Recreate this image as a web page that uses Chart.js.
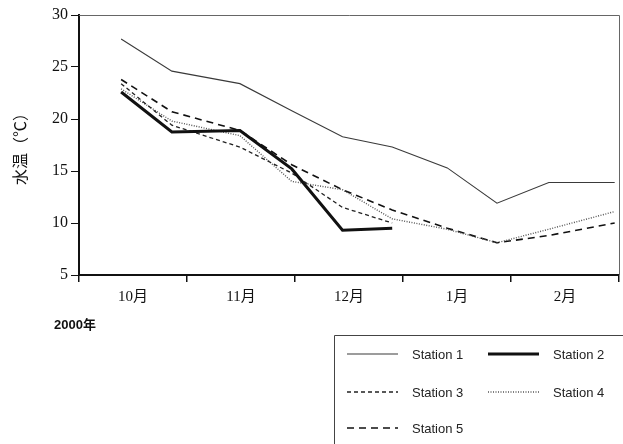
<!DOCTYPE html>
<html><head><meta charset="utf-8">
<script src="https://cdn.jsdelivr.net/npm/chart.js@4"></script>
<style>html,body{margin:0;padding:0;background:#fff}#wrap{width:623px;height:444px;position:relative}</style>
</head><body><div id="wrap"><canvas id="c" width="623" height="444"></canvas></div>
<script>
const months = ['10月', '11月', '12月', '1月', '2月'];
const yearLabel = '2000年';
const yTitle = '水温（℃）';
const yTicks = [5, 10, 15, 20, 25, 30];
// sampling times, in month units from the start of October
const sampleX = [0.39, 0.86, 1.49, 1.97, 2.44, 2.90, 3.41, 3.87, 4.35, 4.96];
const stationNames = ['Station 1', 'Station 2', 'Station 3', 'Station 4', 'Station 5'];
const station1 = [27.7, 24.6, 23.4, 20.8, 18.3, 17.3, 15.3, 11.9, 13.9, 13.9];
const station2 = [22.6, 18.75, 18.9, 15.2, 9.3, 9.5, null, null, null, null];
const station3 = [23.4, 19.4, 17.3, 14.8, 11.5, 10.0, null, null, null, null];
const station4 = [22.9, 19.8, 18.4, 14.0, 13.2, 10.4, 9.4, 8.1, 9.4, 11.1];
const station5 = [23.8, 20.7, 18.9, 15.6, 13.2, 11.25, 9.5, 8.1, 8.8, 10.0];

const series = [station1, station2, station3, station4, station5];
const styles = [
  {color: '#3a3a3a', width: 1.1, dash: []},
  {color: '#111', width: 3, dash: []},
  {color: '#222', width: 1.3, dash: [4, 3]},
  {color: '#555', width: 1.4, dash: [1, 1.5]},
  {color: '#111', width: 1.6, dash: [7, 5]}
];

const datasets = series.map((vals, i) => ({
  label: stationNames[i],
  data: vals.map((v, j) => ({x: sampleX[j], y: v})),
  borderColor: styles[i].color,
  borderWidth: styles[i].width,
  borderDash: styles[i].dash,
  pointRadius: 0,
  tension: 0,
  fill: false,
  spanGaps: false,
  xAxisID: 'xv',
  yAxisID: 'y'
}));

const serif = "'Liberation Serif', 'Noto Sans CJK JP', serif";
const sans = "'Liberation Sans', Arial, 'Noto Sans CJK JP', sans-serif";

const extras = {
  id: 'extras',
  afterDraw(chart) {
    const ctx = chart.ctx;
    const a = chart.chartArea;
    ctx.save();
    // frame top & right
    ctx.strokeStyle = '#666';
    ctx.lineWidth = 1;
    ctx.setLineDash([]);
    ctx.beginPath();
    ctx.moveTo(a.left, a.top + 0.5);
    ctx.lineTo(a.right + 0.5, a.top + 0.5);
    ctx.lineTo(a.right + 0.5, a.bottom);
    ctx.stroke();
    // year label
    ctx.fillStyle = '#111';
    ctx.font = "bold 13px " + sans;
    ctx.textAlign = 'left';
    ctx.textBaseline = 'middle';
    ctx.fillText(yearLabel, 54, 325);
    // legend box
    const bx = 334, by = 335;
    ctx.strokeStyle = '#444';
    ctx.lineWidth = 1;
    ctx.beginPath();
    ctx.moveTo(bx + 0.5, 444);
    ctx.lineTo(bx + 0.5, by + 0.5);
    ctx.lineTo(623, by + 0.5);
    ctx.stroke();
    const cols = [347, 488];
    const rows = [354, 392, 428];
    ctx.font = "13px " + sans;
    chart.data.datasets.forEach((ds, i) => {
      const cx = cols[i % 2], cy = rows[Math.floor(i / 2)];
      ctx.strokeStyle = ds.borderColor;
      ctx.lineWidth = ds.borderWidth;
      ctx.setLineDash(ds.borderDash);
      ctx.beginPath();
      ctx.moveTo(cx, cy);
      ctx.lineTo(cx + 51, cy);
      ctx.stroke();
      ctx.setLineDash([]);
      ctx.fillStyle = '#222';
      ctx.fillText(ds.label, cx + 65, cy + 1);
    });
    ctx.restore();
  }
};

new Chart(document.getElementById('c'), {
  type: 'line',
  data: {labels: months, datasets},
  options: {
    responsive: false,
    animation: false,
    layout: {padding: {left: 0, top: 15, right: 4, bottom: 0}},
    plugins: {legend: {display: false}, tooltip: {enabled: false}},
    scales: {
      x: {
        type: 'category',
        labels: months,
        offset: true,
        grid: {offset: true, drawOnChartArea: false, drawTicks: true, tickLength: 7, color: '#111', lineWidth: 1.5},
        border: {display: true, color: '#111', width: 2},
        ticks: {color: '#111', font: {family: serif, size: 15}, padding: 6, maxRotation: 0},
        afterFit(s) { s.height = 169; }
      },
      xv: {
        type: 'linear',
        display: false,
        min: 0,
        max: 5
      },
      y: {
        type: 'linear',
        min: 5,
        max: 30,
        afterBuildTicks(s) { s.ticks = yTicks.map(v => ({value: v})); },
        grid: {drawOnChartArea: false, drawTicks: true, tickLength: 8, color: '#111'},
        border: {display: true, color: '#111', width: 2},
        ticks: {color: '#111', font: {family: serif, size: 16}, padding: 3},
        title: {display: true, text: yTitle, color: '#111', font: {family: sans, size: 16, weight: 'normal'}, padding: {top: 12, bottom: 0}},
        afterFit(s) { s.width = 79; }
      }
    }
  },
  plugins: [extras]
});
</script></body></html>
